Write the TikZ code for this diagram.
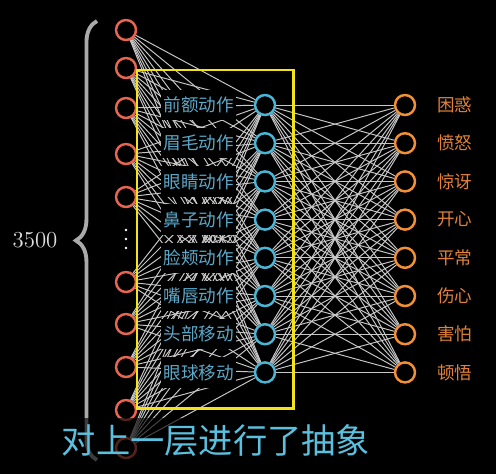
\documentclass[tikz,border=0pt]{standalone}
\usepackage{fontspec}
\newfontfamily\cjk{Noto Sans CJK SC}
\usetikzlibrary{positioning,decorations.pathreplacing}
\definecolor{inred}{RGB}{232,101,79}
\definecolor{hidblue}{RGB}{73,182,214}
\definecolor{hidtext}{RGB}{92,168,200}
\definecolor{outorange}{RGB}{243,144,51}
\definecolor{outtext}{RGB}{226,130,58}
\definecolor{capblue}{RGB}{91,192,222}
\definecolor{boxyellow}{RGB}{245,227,26}
\definecolor{edgegray}{RGB}{200,200,200}
\definecolor{bracegray}{RGB}{170,170,170}

\begin{document}
\begin{tikzpicture}[x=0.02cm, y=-0.02cm, neuron/.style={draw, circle, line width=1.4pt, minimum size=0.40cm, inner sep=0pt}, inn/.style={neuron, draw=inred}, hid/.style={neuron, draw=hidblue}, outn/.style={neuron, draw=outorange}, edge/.style={draw=edgegray, line width=0.55pt}, hlabel/.style={font=\cjk\fontsize{10}{12}\selectfont, text=hidtext, fill=black, inner xsep=1.5pt, inner ysep=4pt}, olabel/.style={font=\cjk\fontsize{10}{12}\selectfont, text=outtext, inner sep=1pt}, ybox/.style={draw=boxyellow, line width=1.7pt}]
\path[use as bounding box, fill=black] (0,0) rectangle (496,474);
\foreach \y [count=\i] in {30,68,108,154,197,282,324,367,410,448}
  \node[inn] (in\i) at (126,\y) {};
\foreach \y in {230,239,248}
  \fill[white] (126,\y) circle (1.3);
\foreach \j in {1,...,8} {
  \node[hid] (h\j) at (265,{105+38.2*(\j-1)}) {};
  \node[outn] (o\j) at (405,{105+38.2*(\j-1)}) {};
}
\foreach \i in {1,...,10}
  \foreach \j in {1,...,8}
    \draw[edge] (in\i) -- (h\j);
\foreach \j in {1,...,8}
  \foreach \k in {1,...,8}
    \draw[edge] (h\j) -- (o\k);
\foreach \t [count=\j] in {前额动作,眉毛动作,眼睛动作,鼻子动作,脸颊动作,嘴唇动作,头部移动,眼球移动}
  \node[hlabel, left=0.34cm of h\j] (hl\j) {\t};
\foreach \t [count=\k] in {困惑,愤怒,惊讶,开心,平常,伤心,害怕,顿悟}
  \node[olabel, right=0.38cm of o\k] (ol\k) {\t};
\draw[ybox] (137,70) rectangle (293,408);
\draw[bracegray, line width=2.2pt, decorate, decoration={brace, amplitude=12pt}] (97,460) -- (97,21);
\node[text=white!88!black, font=\fontsize{13}{15}\selectfont] (num) at (35,240) {3500};
\fill[black, opacity=0.65] (0,418) rectangle (496,474);
\node[font=\cjk\fontsize{19.5}{23}\selectfont, text=capblue] (cap) at (216,441) {对上一层进行了抽象};
\end{tikzpicture}
\end{document}
